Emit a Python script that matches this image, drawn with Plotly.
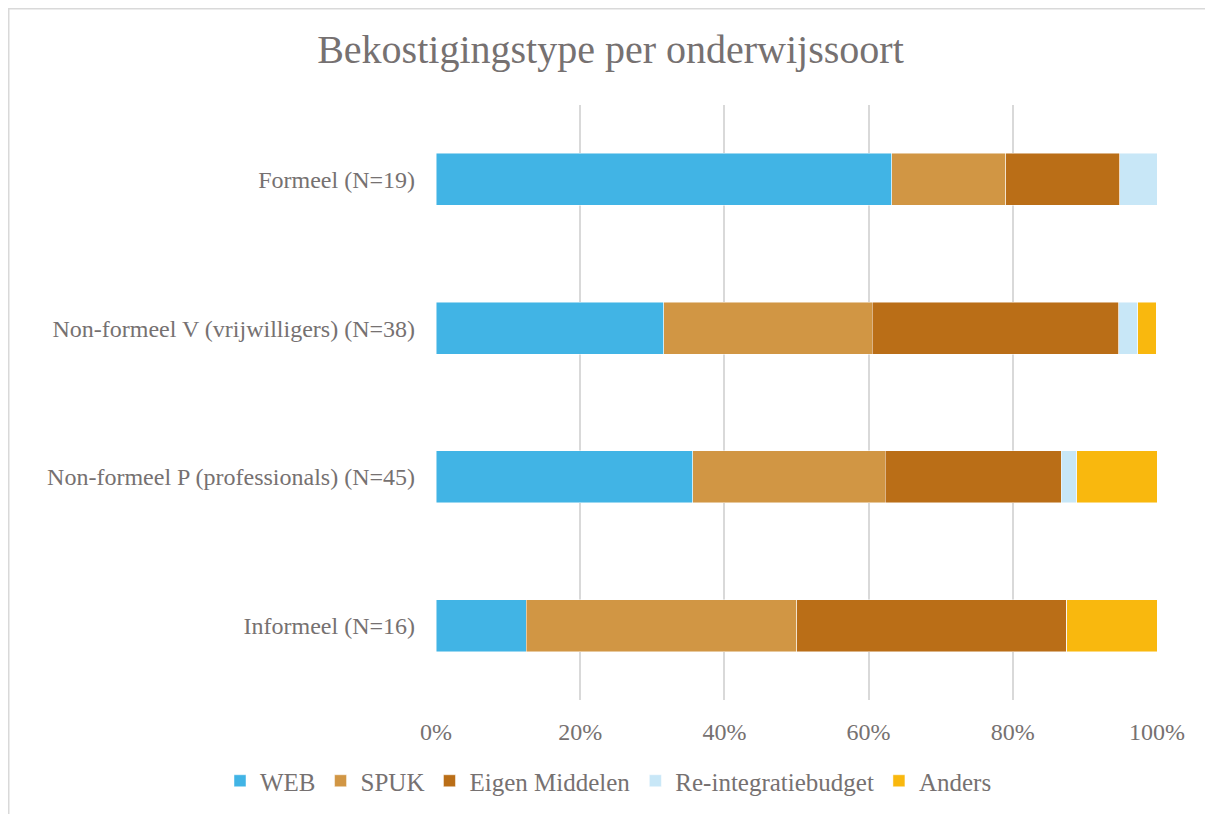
import plotly.graph_objects as go

categories = ["Informeel (N=16)", "Non-formeel P (professionals) (N=45)",
              "Non-formeel V (vrijwilligers) (N=38)", "Formeel (N=19)"]
web = [12.5, 35.6, 31.6, 63.2]
spuk = [37.5, 26.7, 28.9, 15.8]
eigen = [37.5, 24.4, 34.2, 15.8]
reint = [0.0, 2.2, 2.6, 5.3]
anders = [12.5, 11.1, 2.6, 0.0]
tick_vals = [0, 20, 40, 60, 80, 100]
tick_text = ["0%", "20%", "40%", "60%", "80%", "100%"]

series = [
    ("WEB", web, "#41B4E5"),
    ("SPUK", spuk, "#D19644"),
    ("Eigen Middelen", eigen, "#BA6E17"),
    ("Re-integratiebudget", reint, "#C8E7F7"),
    ("Anders", anders, "#F9B80E"),
]

FONT = "Liberation Serif"
TXT = "#767171"
W, H = 1205, 806
L, T, PW, PH = 428, 97, 721, 595

fig = go.Figure()
for name, vals, col in series:
    fig.add_trace(go.Bar(
        y=categories, x=vals, name=name, orientation="h",
        marker=dict(color=col, line=dict(color="rgba(255,255,255,0.6)", width=0.8)),
    ))

fig.update_layout(
    barmode="stack",
    bargap=0.65,
    width=W, height=H,
    margin=dict(l=L, r=W - L - PW, t=T, b=H - T - PH, autoexpand=False),
    paper_bgcolor="white", plot_bgcolor="white",
    font=dict(family=FONT, color=TXT, size=24),
    title=dict(text="Bekostigingstype per onderwijssoort", x=0.5, xref="container",
               xanchor="center", y=1 - 41 / H, yanchor="middle",
               font=dict(family=FONT, size=40, color=TXT)),
    legend=dict(orientation="h", xref="paper", yref="paper", x=(212 - L) / PW, xanchor="left",
                y=(T + PH - 773) / PH, yanchor="middle", font=dict(family=FONT, size=25, color=TXT),
                traceorder="normal", itemwidth=30),
    xaxis=dict(range=[0, 100], tickvals=tick_vals, ticktext=tick_text,
               showgrid=True, gridcolor="#D9D9D9", gridwidth=2, zeroline=False,
               showline=False, ticks="", ticklabelstandoff=15,
               tickfont=dict(family=FONT, size=24, color=TXT)),
    yaxis=dict(showgrid=False, ticks="", ticklabelstandoff=20, showline=False,
               tickfont=dict(family=FONT, size=24, color=TXT)),
    shapes=[dict(type="rect", xref="paper", yref="paper",
                 x0=(0.75 - L) / PW, x1=(W + 30 - L) / PW,
                 y0=(PH + T - (H + 30)) / PH, y1=(PH + T - 0.75) / PH,
                 line=dict(color="#D9D9D9", width=1.5), fillcolor="rgba(0,0,0,0)", layer="below")],
)

fig.write_html("out.html")
